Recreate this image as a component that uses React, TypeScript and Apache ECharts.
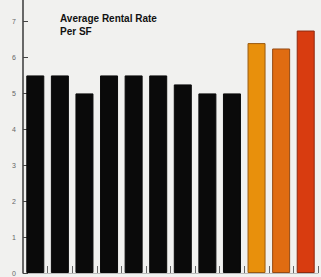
import React, { useEffect, useRef } from "react";
import * as echarts from "echarts";

const categories = ["A", "B", "C", "D", "E", "F", "G", "H", "I", "J", "K", "L"];
const rentalRates = [5.5, 5.5, 5.0, 5.5, 5.5, 5.5, 5.25, 5.0, 5.0, 6.4, 6.25, 6.75];
const yTickValues = [0, 1, 2, 3, 4, 5, 6, 7];
const barColors = [
  "#0a0a0a", "#0a0a0a", "#0a0a0a", "#0a0a0a", "#0a0a0a", "#0a0a0a",
  "#0a0a0a", "#0a0a0a", "#0a0a0a", "#e8900c", "#e06c12", "#d83c10",
];
const barBorders = [
  "#0a0a0a", "#0a0a0a", "#0a0a0a", "#0a0a0a", "#0a0a0a", "#0a0a0a",
  "#0a0a0a", "#0a0a0a", "#0a0a0a", "#9a5a10", "#944a14", "#8e2a10",
];

export default function App() {
  const ref = useRef<HTMLDivElement>(null);
  useEffect(() => {
    const chart = echarts.init(ref.current!, undefined, { renderer: "svg" });
    chart.setOption({
      animation: false,
      backgroundColor: "#f1f1ef",
      title: {
        text: "Average Rental Rate\nPer SF",
        left: 55,
        top: 7,
        textStyle: {
          fontFamily: "Liberation Sans",
          fontSize: 10,
          fontWeight: 900,
          color: "#111",
          lineHeight: 13,
        },
      },
      grid: { left: 23, right: 3, top: 0, bottom: 4, containLabel: false },
      xAxis: {
        type: "category",
        data: categories,
        axisLine: { show: true, lineStyle: { color: "#bbb", width: 1 } },
        axisTick: {
          show: true,
          inside: true,
          length: 7,
          alignWithLabel: false,
          lineStyle: { color: "#666", width: 1 },
        },
        axisLabel: { show: false },
        splitLine: { show: false },
      },
      yAxis: {
        type: "value",
        min: 0,
        max: 7.6,
        interval: 1,
        axisLine: { show: true, lineStyle: { color: "#3a3a3a", width: 1.5 } },
        axisTick: {
          show: true,
          inside: true,
          length: 5,
          customValues: yTickValues,
          lineStyle: { color: "#444", width: 1 },
        },
        axisLabel: {
          show: true,
          showMaxLabel: false,
          margin: 7,
          fontSize: 7,
          color: "#666666",
          fontFamily: "Liberation Sans",
          formatter: (v: number) => (yTickValues.includes(v) ? String(v) : ""),
        },
        splitLine: { show: false },
      },
      series: [
        {
          type: "bar",
          barWidth: 18,
          data: rentalRates.map((v, i) => ({
            value: v,
            itemStyle: {
              color: barColors[i],
              borderColor: barBorders[i],
              borderWidth: 1,
            },
          })),
        },
      ],
    });
    return () => chart.dispose();
  }, []);
  return (
    <div
      ref={ref}
      style={{ position: "absolute", left: 0, top: 0, width: 321, height: 277 }}
    />
  );
}
